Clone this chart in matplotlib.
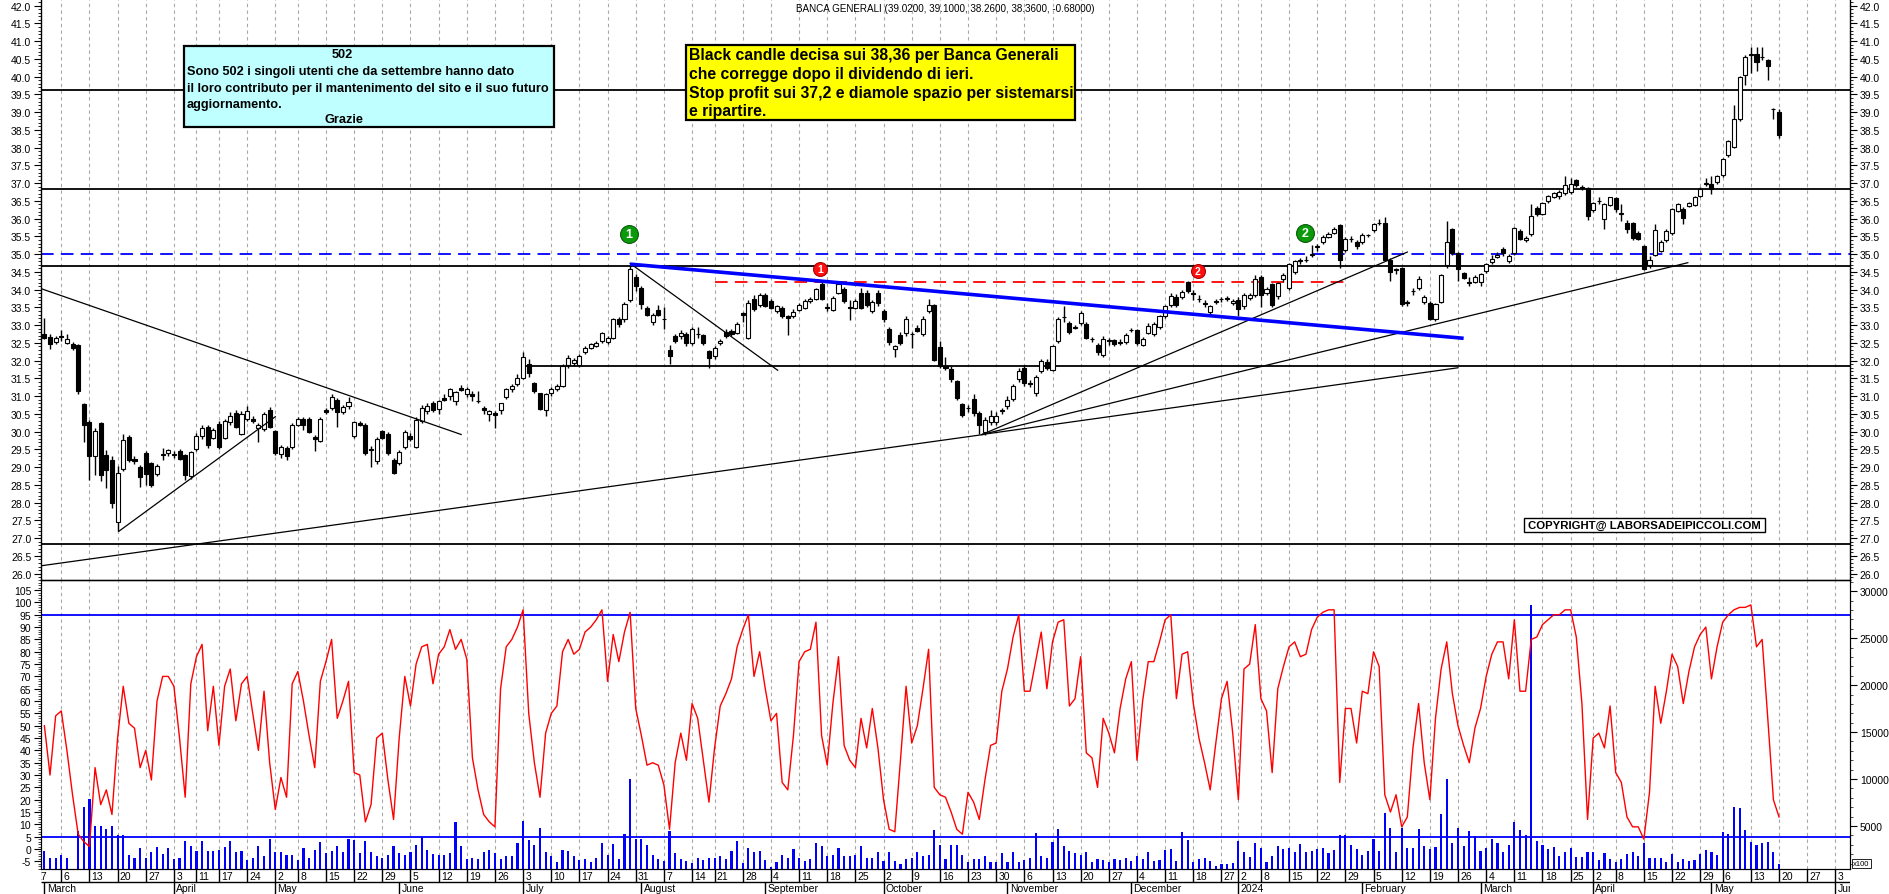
import numpy as np
import pandas as pd
import matplotlib
matplotlib.use("Agg")
import matplotlib.pyplot as plt
from matplotlib import font_manager as fm
from matplotlib.patches import Rectangle

# ------------------------------------------------------------------ data
holidays = ["2023-04-07", "2023-04-10", "2023-05-01", "2023-08-15", "2023-12-25",
            "2023-12-26", "2024-01-01", "2024-03-29", "2024-04-01", "2024-05-01"]
calendar_start = "2023-02-20"
calendar_end = "2024-06-14"
first_session = "2023-03-01"

opens = [32.76, 32.66, 32.53, 32.70, 32.50, 32.48, 32.43, 30.77, 30.27, 29.31,
         30.23, 29.33, 29.20, 27.45, 28.95, 29.86, 29.22, 29.00, 29.40, 29.12,
         28.80, 29.33, 29.40, 29.36, 29.45, 29.33, 28.74, 29.52, 29.87, 30.13,
         29.83, 30.22, 29.83, 30.27, 30.53, 29.94, 30.36, 30.36, 30.11, 30.08,
         30.62, 30.01, 29.37, 29.54, 29.57, 30.20, 30.36, 30.36, 29.85, 29.75,
         30.60, 30.67, 30.89, 30.55, 30.72, 29.87, 30.25, 30.20, 29.52, 29.18,
         30.01, 29.92, 29.20, 29.12, 29.57, 29.87, 29.57, 30.30, 30.58, 30.80,
         30.64, 30.95, 31.00, 30.86, 31.22, 31.05, 31.05, 30.86, 30.67, 30.51,
         30.53, 30.60, 30.98, 31.20, 31.33, 31.52, 31.90, 31.36, 31.08, 30.60,
         31.08, 31.20, 31.28, 31.87, 31.94, 31.87, 32.24, 32.36, 32.41, 32.55,
         32.53, 32.65, 33.18, 33.16, 33.71, 34.37, 34.06, 33.49, 33.09, 33.44,
         33.16, 32.29, 32.69, 32.69, 32.74, 32.50, 32.74, 32.71, 32.27, 32.13,
         32.49, 32.81, 32.83, 32.79, 33.33, 32.65, 33.73, 33.58, 33.84, 33.68,
         33.40, 33.49, 33.26, 33.26, 33.44, 33.49, 33.68, 33.73, 34.15, 33.50,
         33.43, 33.92, 34.01, 33.50, 33.49, 33.92, 33.92, 33.40, 33.92, 33.40,
         32.90, 32.34, 32.72, 32.77, 32.74, 32.93, 32.74, 33.40, 33.56, 32.39,
         31.85, 31.77, 31.42, 30.77, 30.67, 30.92, 30.53, 29.99, 30.27, 30.27,
         30.58, 30.72, 30.91, 31.47, 31.80, 31.38, 31.09, 31.71, 31.96, 31.75,
         32.55, 33.24, 33.07, 32.95, 33.07, 33.02, 32.62, 32.43, 32.15, 32.58,
         32.58, 32.52, 32.52, 32.85, 32.86, 32.43, 32.79, 32.74, 32.95, 33.26,
         33.58, 33.80, 33.80, 34.22, 33.90, 33.75, 33.63, 33.37, 33.68, 33.75,
         33.75, 33.63, 33.71, 33.54, 33.77, 33.84, 34.36, 33.92, 34.15, 33.82,
         34.29, 34.06, 34.50, 34.80, 34.83, 34.98, 35.20, 35.33, 35.49, 35.61,
         35.81, 35.11, 35.42, 35.33, 35.33, 35.53, 35.67, 35.89, 35.89, 34.85,
         34.57, 34.62, 33.65, 33.96, 34.06, 33.65, 33.63, 33.16, 33.66, 34.69,
         35.72, 35.02, 34.48, 34.23, 34.23, 34.23, 34.53, 34.79, 34.92, 35.16,
         34.81, 35.02, 35.65, 35.40, 35.56, 36.29, 36.14, 36.51, 36.62, 36.64,
         36.73, 36.74, 37.09, 36.88, 36.87, 36.25, 36.50, 36.00, 36.39, 36.57,
         36.14, 35.89, 35.89, 35.59, 35.23, 34.69, 34.99, 35.09, 35.40, 35.59,
         36.22, 36.28, 36.36, 36.39, 36.64, 36.99, 36.99, 37.02, 37.22, 37.79,
         38.01, 38.80, 40.05, 40.60, 40.64, 40.55, 40.47, 39.10, 39.02]

highs = [33.21, 32.76, 32.70, 32.86, 32.74, 32.52, 32.46, 30.80, 30.32, 30.11,
         30.26, 29.48, 29.32, 29.03, 29.92, 29.90, 29.30, 29.05, 29.45, 29.15,
         29.10, 29.55, 29.52, 29.45, 29.50, 29.38, 29.45, 29.95, 30.20, 30.18,
         30.10, 30.30, 30.35, 30.55, 30.60, 30.58, 30.72, 30.45, 30.25, 30.55,
         30.70, 30.05, 29.62, 29.60, 30.25, 30.40, 30.42, 30.40, 29.90, 30.40,
         30.66, 31.05, 30.95, 30.75, 30.98, 30.30, 30.30, 30.25, 29.60, 29.85,
         30.05, 29.98, 29.25, 29.48, 30.05, 29.95, 30.40, 30.75, 30.80, 30.85,
         30.90, 31.05, 31.22, 31.15, 31.32, 31.25, 31.15, 31.15, 30.72, 30.60,
         30.58, 30.82, 31.22, 31.35, 31.62, 32.24, 32.05, 31.40, 31.10, 31.10,
         31.25, 31.35, 31.90, 32.15, 32.08, 32.18, 32.40, 32.50, 32.55, 32.82,
         32.70, 33.20, 33.22, 33.65, 34.72, 34.45, 34.10, 33.55, 33.35, 33.58,
         33.52, 32.45, 32.75, 32.85, 32.80, 32.95, 32.96, 32.75, 32.30, 32.40,
         32.60, 32.90, 32.90, 33.08, 33.36, 33.70, 33.85, 33.90, 33.92, 33.75,
         33.58, 33.55, 33.30, 33.45, 33.62, 33.75, 33.80, 34.05, 34.25, 33.62,
         33.82, 34.20, 34.08, 33.70, 33.75, 34.05, 33.98, 33.70, 34.00, 33.45,
         32.95, 32.45, 32.80, 33.25, 32.80, 33.00, 33.25, 33.75, 33.60, 32.55,
         32.10, 31.85, 31.45, 30.80, 30.75, 31.05, 30.58, 30.40, 30.60, 30.55,
         30.68, 31.00, 31.35, 31.80, 31.88, 31.45, 31.60, 32.05, 32.05, 32.45,
         33.22, 33.55, 33.12, 33.00, 33.40, 33.10, 32.68, 32.50, 32.70, 32.65,
         32.62, 32.60, 32.78, 32.92, 32.90, 32.68, 33.05, 33.08, 33.30, 33.58,
         33.90, 33.88, 34.00, 34.24, 34.00, 33.85, 33.70, 33.58, 33.74, 33.80,
         33.82, 33.75, 33.78, 33.90, 33.92, 34.40, 34.40, 34.08, 34.20, 34.22,
         34.48, 34.75, 34.85, 34.90, 34.95, 35.25, 35.30, 35.55, 35.62, 35.78,
         35.85, 35.48, 35.50, 35.40, 35.60, 35.58, 35.88, 36.00, 36.05, 34.90,
         34.62, 34.65, 33.72, 34.05, 34.38, 33.85, 33.68, 33.62, 34.45, 35.93,
         35.75, 35.05, 34.50, 34.35, 34.40, 34.48, 34.75, 34.98, 35.05, 35.20,
         35.00, 35.78, 35.70, 35.52, 36.40, 36.36, 36.48, 36.68, 36.76, 36.80,
         37.20, 37.15, 37.12, 36.95, 36.90, 36.48, 36.62, 36.44, 36.62, 36.60,
         36.40, 35.95, 35.92, 35.65, 35.25, 34.95, 35.85, 35.40, 35.72, 36.30,
         36.45, 36.32, 36.48, 36.64, 36.90, 37.15, 37.20, 37.22, 37.72, 38.22,
         39.20, 40.02, 40.60, 40.83, 40.85, 40.83, 40.50, 39.12, 39.10]

lows = [32.60, 32.34, 32.48, 32.55, 32.46, 32.30, 31.07, 29.71, 28.63, 28.78,
        28.60, 28.41, 27.85, 27.19, 28.90, 29.15, 29.10, 28.44, 28.50, 28.45,
        28.75, 29.20, 29.30, 29.25, 29.20, 28.64, 28.67, 29.45, 29.80, 29.55,
        29.78, 29.50, 29.78, 30.20, 30.10, 29.90, 30.30, 30.25, 29.72, 30.02,
        30.10, 29.35, 29.25, 29.20, 29.50, 30.15, 30.05, 29.95, 29.45, 29.70,
        30.50, 30.60, 30.13, 30.50, 30.65, 29.82, 30.15, 29.35, 29.00, 29.10,
        29.80, 29.35, 28.80, 29.05, 29.50, 29.75, 29.55, 30.25, 30.50, 30.55,
        30.50, 30.85, 30.90, 30.75, 31.15, 30.98, 30.85, 30.82, 30.50, 30.30,
        30.10, 30.50, 30.92, 31.12, 31.28, 31.48, 31.55, 31.10, 30.60, 30.44,
        31.00, 31.15, 31.25, 31.80, 31.85, 31.82, 32.20, 32.32, 32.38, 32.50,
        32.48, 32.60, 32.95, 33.10, 33.65, 33.95, 33.45, 33.25, 33.00, 33.25,
        32.88, 31.92, 32.50, 32.60, 32.40, 32.45, 32.65, 32.45, 31.80, 32.05,
        32.45, 32.65, 32.70, 32.75, 33.10, 32.60, 33.40, 33.52, 33.50, 33.45,
        33.35, 33.20, 32.72, 33.20, 33.40, 33.45, 33.62, 33.70, 33.70, 33.40,
        33.40, 33.88, 33.62, 33.15, 33.45, 33.45, 33.50, 33.35, 33.55, 33.10,
        32.45, 32.10, 32.45, 32.70, 32.35, 32.80, 32.70, 33.35, 32.00, 31.80,
        31.75, 31.40, 30.90, 30.40, 30.55, 30.45, 29.92, 29.90, 30.20, 30.20,
        30.50, 30.65, 30.85, 31.40, 31.30, 31.25, 31.00, 31.65, 31.75, 31.70,
        32.50, 33.10, 32.75, 32.88, 33.00, 32.60, 32.52, 32.15, 32.10, 32.45,
        32.40, 32.45, 32.48, 32.80, 32.45, 32.40, 32.75, 32.70, 32.90, 33.20,
        33.52, 33.52, 33.75, 33.90, 33.72, 33.65, 33.50, 33.32, 33.60, 33.65,
        33.68, 33.58, 33.25, 33.45, 33.70, 33.80, 33.50, 33.85, 33.50, 33.75,
        34.22, 34.00, 34.45, 34.72, 34.78, 34.92, 35.10, 35.28, 35.45, 35.58,
        34.60, 35.05, 35.35, 35.15, 35.28, 35.48, 35.62, 35.82, 34.85, 34.25,
        34.45, 33.55, 33.55, 33.85, 34.00, 33.60, 33.15, 33.12, 33.62, 34.62,
        34.98, 34.25, 34.30, 34.10, 34.20, 34.10, 34.48, 34.72, 34.88, 34.95,
        34.75, 34.98, 35.40, 35.35, 35.50, 36.08, 36.10, 36.45, 36.58, 36.55,
        36.68, 36.70, 36.90, 36.80, 35.95, 36.20, 36.40, 35.70, 36.35, 36.20,
        35.93, 35.60, 35.40, 35.40, 34.55, 34.62, 34.95, 35.05, 35.35, 35.55,
        36.18, 35.85, 36.32, 36.35, 36.60, 36.92, 36.70, 36.98, 37.18, 37.75,
        37.98, 38.75, 39.78, 40.10, 40.15, 40.47, 39.92, 38.80, 38.26]

closes = [32.64, 32.48, 32.64, 32.68, 32.60, 32.35, 31.14, 30.18, 29.31, 30.01,
          28.77, 28.93, 27.99, 28.84, 29.77, 29.21, 29.16, 28.72, 28.80, 28.50,
          29.03, 29.36, 29.47, 29.34, 29.22, 28.79, 29.42, 29.87, 30.10, 29.61,
          30.04, 29.57, 30.30, 30.44, 30.14, 30.51, 30.58, 30.30, 30.20, 30.51,
          30.14, 29.40, 29.57, 29.31, 30.20, 30.36, 30.20, 29.98, 29.78, 30.36,
          30.55, 30.98, 30.55, 30.70, 30.83, 30.27, 30.20, 29.40, 29.48, 29.78,
          29.83, 29.40, 28.84, 29.43, 29.99, 29.80, 30.34, 30.67, 30.72, 30.60,
          30.86, 30.90, 31.19, 31.11, 31.18, 31.19, 31.00, 30.87, 30.62, 30.57,
          30.48, 30.80, 31.19, 31.28, 31.52, 32.11, 31.66, 31.14, 30.64, 31.05,
          31.21, 31.28, 31.85, 32.08, 32.03, 32.13, 32.36, 32.46, 32.50, 32.79,
          32.65, 33.16, 33.02, 33.61, 34.57, 34.09, 33.60, 33.30, 33.30, 33.30,
          33.16, 32.13, 32.55, 32.79, 32.49, 32.88, 32.74, 32.49, 32.08, 32.36,
          32.55, 32.69, 32.74, 33.02, 33.29, 33.63, 33.46, 33.84, 33.54, 33.49,
          33.54, 33.26, 33.21, 33.37, 33.58, 33.68, 33.73, 34.01, 33.73, 33.49,
          33.77, 34.15, 33.68, 33.49, 33.68, 33.49, 33.56, 33.65, 33.63, 33.16,
          32.52, 32.40, 32.50, 33.16, 32.74, 32.83, 33.18, 33.56, 32.03, 31.86,
          31.80, 31.47, 30.95, 30.48, 30.66, 30.53, 30.20, 30.34, 30.44, 30.45,
          30.62, 30.88, 31.28, 31.71, 31.38, 31.33, 31.55, 31.99, 31.80, 32.41,
          33.18, 33.22, 32.81, 32.93, 33.33, 32.65, 32.60, 32.24, 32.62, 32.56,
          32.46, 32.50, 32.71, 32.87, 32.49, 32.62, 32.99, 33.02, 33.26, 33.54,
          33.82, 33.58, 33.93, 33.96, 33.88, 33.73, 33.61, 33.54, 33.66, 33.73,
          33.77, 33.68, 33.46, 33.84, 33.86, 34.31, 33.84, 34.01, 33.56, 34.18,
          34.41, 34.71, 34.81, 34.83, 34.85, 35.01, 35.23, 35.49, 35.58, 35.72,
          34.85, 35.42, 35.44, 35.23, 35.53, 35.55, 35.84, 35.88, 34.85, 34.50,
          34.55, 33.59, 33.63, 33.95, 34.31, 33.80, 33.18, 33.59, 34.41, 35.35,
          35.02, 34.59, 34.34, 34.18, 34.37, 34.45, 34.71, 34.87, 34.99, 35.02,
          34.95, 35.75, 35.44, 35.47, 36.08, 36.12, 36.45, 36.63, 36.73, 36.75,
          36.94, 36.97, 36.94, 36.87, 36.07, 36.45, 36.50, 36.41, 36.60, 36.27,
          36.14, 35.72, 35.47, 35.44, 34.57, 34.83, 35.68, 35.35, 35.65, 36.27,
          36.41, 36.03, 36.44, 36.60, 36.83, 36.99, 36.85, 37.19, 37.68, 38.19,
          38.82, 39.98, 40.56, 40.64, 40.42, 40.55, 40.29, 39.08, 38.36]

oscillator = [50, 30, 54, 56, 40, 22, 6, 3, 1, 33,
              18, 24, 14, 45, 66, 51, 49, 33, 40, 28,
              60, 70, 70, 66, 45, 21, 67, 78, 83, 48,
              66, 42, 66, 73, 52, 67, 70, 55, 40, 64,
              35, 16, 29, 21, 67, 72, 60, 46, 33, 68,
              76, 85, 53, 60, 68, 31, 30, 11, 18, 45,
              47, 28, 12, 45, 70, 58, 75, 82, 83, 67,
              79, 82, 89, 81, 85, 77, 37, 24, 14, 11,
              9, 65, 82, 85, 90, 97, 55, 35, 21, 47,
              55, 58, 80, 85, 79, 81, 88, 90, 93, 97,
              68, 87, 76, 88, 96, 57, 46, 34, 35, 34,
              26, 8, 35, 47, 36, 59, 53, 36, 19, 41,
              58, 63, 69, 82, 89, 95, 70, 80, 65, 52,
              55, 27, 24, 46, 76, 80, 81, 92, 46, 34,
              59, 78, 42, 36, 33, 53, 41, 57, 41, 20,
              8, 7, 36, 66, 43, 50, 65, 81, 25, 22,
              21, 15, 8, 6, 23, 19, 12, 28, 42, 43,
              64, 73, 86, 95, 64, 64, 76, 88, 65, 84,
              92, 93, 58, 61, 78, 39, 37, 25, 53, 47,
              39, 57, 69, 76, 36, 60, 76, 76, 84, 93,
              95, 61, 79, 80, 59, 45, 35, 24, 43, 61,
              68, 47, 20, 73, 75, 91, 61, 56, 31, 65,
              74, 82, 84, 78, 79, 89, 94, 96, 97, 97,
              27, 57, 57, 43, 64, 63, 80, 74, 22, 15,
              22, 9, 13, 41, 59, 35, 20, 53, 73, 84,
              63, 50, 42, 35, 49, 57, 70, 79, 84, 84,
              69, 93, 64, 64, 85, 86, 91, 93, 95, 95,
              97, 97, 86, 59, 12, 45, 47, 41, 58, 31,
              27, 13, 9, 9, 4, 23, 66, 51, 64, 79,
              74, 59, 72, 82, 87, 90, 69, 82, 92, 95,
              97, 98, 98, 99, 82, 85, 53, 20, 13]

volume = [2285, 1640, 1640, 1930, 1640, 400, 4500, 7000, 7890, 5030,
          5030, 4680, 4960, 4030, 4070, 1890, 1640, 2600, 1640, 2180,
          2710, 2000, 2600, 1460, 1570, 3360, 2890, 2285, 3360, 2285,
          2360, 2460, 2710, 3360, 2180, 2285, 1390, 1640, 2820, 1750,
          3600, 2180, 2180, 1930, 1890, 1390, 2600, 1640, 2460, 3250,
          2100, 2360, 2820, 2180, 3600, 3500, 2100, 3360, 2180, 1820,
          1640, 1890, 2890, 2100, 1930, 2180, 3000, 3860, 2460, 2000,
          1890, 1930, 2100, 5390, 2890, 1530, 1640, 1530, 2180, 2460,
          2100, 1530, 1750, 1750, 3180, 5500, 3500, 3000, 4750, 2250,
          1750, 1210, 2460, 2360, 1820, 1390, 1530, 1180, 1640, 3180,
          1890, 3030, 1530, 4140, 10030, 3600, 3600, 2960, 1890, 1530,
          1290, 4500, 2070, 1530, 1290, 1040, 1640, 1390, 1640, 1640,
          1750, 1530, 2285, 3360, 1040, 2640, 2180, 2285, 1390, 680,
          1110, 1890, 1640, 2500, 1640, 1290, 1460, 3180, 2820, 1750,
          1890, 2640, 1750, 1750, 1890, 2820, 1640, 1640, 2180, 1290,
          2180, 1290, 930, 1530, 1640, 2180, 1750, 1890, 4570, 2960,
          1530, 3000, 2960, 1890, 1110, 1460, 1460, 1750, 1210, 1210,
          2140, 1110, 2180, 1210, 1390, 1570, 4250, 1750, 1640, 3320,
          4680, 2890, 2285, 2100, 1890, 2180, 1110, 1460, 1390, 1210,
          1460, 1390, 1640, 1290, 1750, 1460, 2180, 1290, 1390, 2460,
          2530, 1290, 4320, 3530, 1110, 1460, 1570, 1290, 750, 930,
          930, 1040, 3430, 2180, 1710, 3140, 2640, 1180, 1790, 2890,
          2570, 2680, 2210, 3030, 2250, 2320, 2570, 2610, 2140, 2430,
          4030, 4030, 2960, 2530, 1890, 2320, 3640, 2320, 6390, 4780,
          2250, 4780, 2640, 2640, 4680, 2890, 2530, 2750, 6280, 9960,
          3140, 4780, 2890, 4500, 3960, 2320, 2680, 3600, 3180, 2210,
          2960, 5460, 4610, 4030, 28500, 3430, 2960, 2530, 2710, 1820,
          2250, 2680, 1710, 1710, 2250, 2250, 1390, 2070, 1530, 1110,
          1460, 2000, 2210, 1820, 3140, 1570, 1640, 1640, 1210, 2000,
          1110, 1530, 1290, 1390, 1960, 2460, 2180, 1890, 4390, 4140,
          7030, 6930, 4610, 3320, 2960, 3180, 3320, 2250, 930]

month_labels = ["March", "April", "May", "June", "July", "August", "September",
                "October", "November", "December", "2024", "February", "March",
                "April", "May", "June"]

price_levels_full = [39.62, 36.85, 34.67, 26.83]
price_level_partial = (31.86, 85)          # level, first session
blue_dash_level = 35.0
red_dash = (34.22, 119, 231)               # level, from, to
trend_lines = [((-0.6, 34.03), (74.0, 29.92)),
               ((13.2, 27.19), (41.0, 30.42)),
               ((-0.6, 26.22), (166.8, 29.92)),
               ((104.0, 34.74), (130.2, 31.73)),
               ((166.5, 29.92), (242.0, 35.06)),
               ((166.5, 29.92), (291.8, 34.76)),
               ((166.5, 29.92), (251.0, 31.80))]
blue_trend = ((104.0, 34.72), (252.0, 32.63))
markers = [(103.8, 35.56, "1", "#0a9a0a"), (223.9, 35.60, "2", "#0a9a0a"),
           (137.8, 34.59, "1", "#ff1010"), (204.8, 34.52, "2", "#ff1010")]

title_text = "BANCA GENERALI (39.0200, 39.1000, 38.2600, 38.3600, -0.68000)"
cyan_title = "502"
cyan_lines = ["Sono 502 i singoli utenti che da settembre hanno dato",
              "il loro contributo per il mantenimento del sito e il suo futuro",
              "aggiornamento."]
cyan_footer = "Grazie"
yellow_lines = ["Black candle decisa sui 38,36 per Banca Generali",
                "che corregge dopo il dividendo di ieri.",
                "Stop profit sui 37,2 e diamole spazio per sistemarsi",
                "e ripartire."]
copyright_text = "COPYRIGHT@ LABORSADEIPICCOLI.COM"

price_ticks = np.arange(26.0, 42.01, 0.5)
osc_ticks = list(range(-5, 106, 5))
vol_ticks = [5000, 10000, 15000, 20000, 25000, 30000]


# ------------------------------------------------------------------ fonts
def font_ok(name):
    try:
        fm.findfont(fm.FontProperties(family=name), fallback_to_default=False)
        return True
    except Exception:
        return False


SANS = "Liberation Sans" if font_ok("Liberation Sans") else "DejaVu Sans"
BOXFONT = SANS
CYAN_FS, YEL_FS = 9.2, 11.3
plt.rcParams["font.family"] = [SANS, "DejaVu Sans"]

# ------------------------------------------------------------------ figure
W, H, DPI = 1890, 895, 100
fig = plt.figure(figsize=(W / DPI, H / DPI), dpi=DPI, facecolor="white")


def fx(px):
    return px / W


def fy(py):
    return 1 - py / H


X0, X1 = 41, 1850
P_BOT, O_BOT = 581, 870
ax_p = fig.add_axes([fx(X0), fy(P_BOT), (X1 - X0) / W, P_BOT / H])
ax_o = fig.add_axes([fx(X0), fy(O_BOT), (X1 - X0) / W, (O_BOT - P_BOT) / H])
ax_v = ax_o.twinx()
ax_d = fig.add_axes([fx(X0), 0, (X1 - X0) / W, (H - O_BOT) / H])

XL = (-0.6, 320.6)
for a in (ax_p, ax_o, ax_v, ax_d):
    a.set_xlim(*XL)
ax_p.set_ylim(25.82, 42.19)
ax_o.set_ylim(-8.1, 109.1)
ax_v.set_ylim(415, 31200)

# calendar / x positions
sessions = pd.bdate_range(calendar_start, calendar_end, freq="C", holidays=holidays)
pos0 = sessions.get_loc(pd.Timestamp(first_session))
xpos = np.arange(len(sessions)) - pos0
dow = sessions.dayofweek.values
new_week = np.r_[True, np.diff(dow) < 0]
mon = sessions.month.values
new_month = np.r_[True, mon[1:] != mon[:-1]]
wk_x = xpos[new_week]
wk_day = sessions.day.values[new_week]
mo_x = xpos[new_month]
mo_x = mo_x[mo_x >= 0]

GRID = dict(color="#a8a8a8", lw=0.8, ls=(0, (3, 3)), zorder=0)
for wx in wk_x:
    if XL[0] < wx < XL[1]:
        ax_p.axvline(wx, **GRID)
        ax_v.axvline(wx, **GRID)

# ------------------------------------------------------------------ price panel
x = np.arange(len(closes))
o, h, l, c = (np.array(v, dtype=float) for v in (opens, highs, lows, closes))
ax_p.vlines(x, l, h, color="black", lw=1.0, zorder=3)
body_lo = np.minimum(o, c)
body_h = np.maximum(np.abs(c - o), 0.012)
face = np.where(c >= o, "white", "black")
ax_p.bar(x, body_h, bottom=body_lo, width=0.72, color=face, edgecolor="black",
         linewidth=0.8, zorder=4)

for lev in price_levels_full:
    ax_p.axhline(lev, color="black", lw=1.3, zorder=2)
ax_p.hlines(price_level_partial[0], price_level_partial[1], XL[1], color="black", lw=1.3, zorder=2)
ax_p.axhline(blue_dash_level, color="#0000ff", lw=1.3, ls=(0, (7, 4)), zorder=2)
ax_p.hlines(red_dash[0], red_dash[1], red_dash[2], color="#ff0000", lw=1.3,
            linestyles=[(0, (7, 4))], zorder=2)
for (xa, ya), (xb, yb) in trend_lines:
    ax_p.plot([xa, xb], [ya, yb], color="black", lw=0.9, zorder=5)
(bxa, bya), (bxb, byb) = blue_trend
ax_p.plot([bxa, bxb], [bya, byb], color="#0000ff", lw=2.6, zorder=5, solid_capstyle="butt")

for mx, my, lab, col in markers:
    big = col == "#0a9a0a"
    ax_p.scatter([mx], [my], s=165 if big else 100, color=col,
                 edgecolors="#0b5a0b" if big else "#b00000", linewidths=0.8, zorder=7)
    ax_p.text(mx, my, lab, color="white", fontsize=9 if big else 7.5, fontweight="bold",
              ha="center", va="center", zorder=8)

ax_p.set_xticks([])
ax_p.set_yticks(price_ticks)
ax_p.set_yticklabels([f"{v:.1f}" for v in price_ticks])
ax_p.set_yticks(np.arange(25.9, 42.15, 0.1), minor=True)
ax_p.tick_params(axis="y", which="major", left=True, right=True, labelleft=True,
                 labelright=True, length=5, width=0.8, labelsize=7.5, pad=2)
ax_p.tick_params(axis="y", which="minor", left=True, right=True, length=2.5, width=0.6)
ax_p.spines["top"].set_visible(False)
for s in ("left", "right", "bottom"):
    ax_p.spines[s].set_linewidth(1.0)

# ------------------------------------------------------------------ lower panel
ax_v.bar(x, volume, width=0.38, color="#0000ff", zorder=2)
ax_o.plot(x, oscillator, color="#ff0000", lw=1.0, zorder=3)
ax_o.axhline(95, color="#0000ff", lw=1.3, zorder=2)
ax_o.axhline(5, color="#0000ff", lw=1.3, zorder=2)
ax_o.set_zorder(ax_v.get_zorder() + 1)
ax_o.patch.set_visible(False)

ax_o.set_xticks([])
ax_v.set_xticks([])
ax_o.set_yticks(osc_ticks)
ax_o.set_yticklabels([str(v) for v in osc_ticks])
ax_o.set_yticks(np.arange(-8, 110, 1), minor=True)
ax_o.tick_params(axis="y", which="major", left=True, right=False, labelleft=True,
                 length=5, width=0.8, labelsize=7.5, pad=2)
ax_o.tick_params(axis="y", which="minor", left=True, right=False, length=2, width=0.5)
ax_v.set_yticks(vol_ticks)
ax_v.set_yticklabels([str(v) for v in vol_ticks])
ax_v.set_yticks(np.arange(1000, 31001, 1000), minor=True)
ax_v.tick_params(axis="y", which="major", right=True, labelright=True, length=5,
                 width=0.8, labelsize=7.5, pad=2)
ax_v.tick_params(axis="y", which="minor", right=True, length=2, width=0.5)

# ------------------------------------------------------------------ date rows
ax_d.set_ylim(0, H - O_BOT)
ax_d.axis("off")
SEP = (H - O_BOT) - 13.3
ax_d.hlines(SEP, XL[0], XL[1], color="black", lw=1.0)
for wx, dd in zip(wk_x, wk_day):
    ax_d.vlines(wx, SEP, H - O_BOT, color="black", lw=1.0)
    ax_d.text(wx + 0.4, SEP + 6.6, str(dd), ha="left", va="center", fontsize=7.5,
              clip_on=True)
for mx, name in zip(mo_x, month_labels):
    ax_d.vlines(mx, 0, SEP, color="black", lw=1.0)
    ax_d.text(mx + 0.4, SEP / 2 - 0.3, name, ha="left", va="center", fontsize=7.5,
              clip_on=True)

fig.text(fx(1853), fy(864.5), "x100", fontsize=5.5, ha="left", va="center",
         bbox=dict(boxstyle="square,pad=0.15", fc="white", ec="black", lw=0.6))

# ------------------------------------------------------------------ text boxes
fig.text(fx(796), fy(8.5), title_text, fontsize=7.1, ha="left", va="center")


def fig_box(x0, y0, x1, y1, fc, lw):
    fig.add_artist(Rectangle((fx(x0), fy(y1)), (x1 - x0) / W, (y1 - y0) / H,
                             transform=fig.transFigure, facecolor=fc,
                             edgecolor="black", linewidth=lw, zorder=10))


fig_box(184, 47, 554, 128, "#c0ffff", 1.6)
fig.text(fx(342), fy(55.5), cyan_title, family=BOXFONT, fontsize=CYAN_FS,
         fontweight="bold", ha="center", va="center", zorder=11)
for i, line in enumerate(cyan_lines):
    fig.text(fx(187), fy(72 + 16.6 * i), line, family=BOXFONT, fontsize=CYAN_FS,
             fontweight="bold", ha="left", va="center", zorder=11)
fig.text(fx(344), fy(120), cyan_footer, family=BOXFONT, fontsize=CYAN_FS,
         fontweight="bold", ha="center", va="center", zorder=11)

fig_box(686, 46, 1075, 121, "#ffff00", 1.6)
for i, line in enumerate(yellow_lines):
    fig.text(fx(689), fy(55.5 + 18.8 * i), line, family=BOXFONT, fontsize=YEL_FS,
             fontweight="bold", ha="left", va="center", zorder=11)

fig_box(1524, 519, 1765, 533, "white", 1.0)
fig.text(fx(1644.5), fy(526.3), copyright_text, fontsize=8.2, fontweight="bold",
         ha="center", va="center", zorder=11)

fig.savefig("out.png", dpi=DPI, facecolor="white")
